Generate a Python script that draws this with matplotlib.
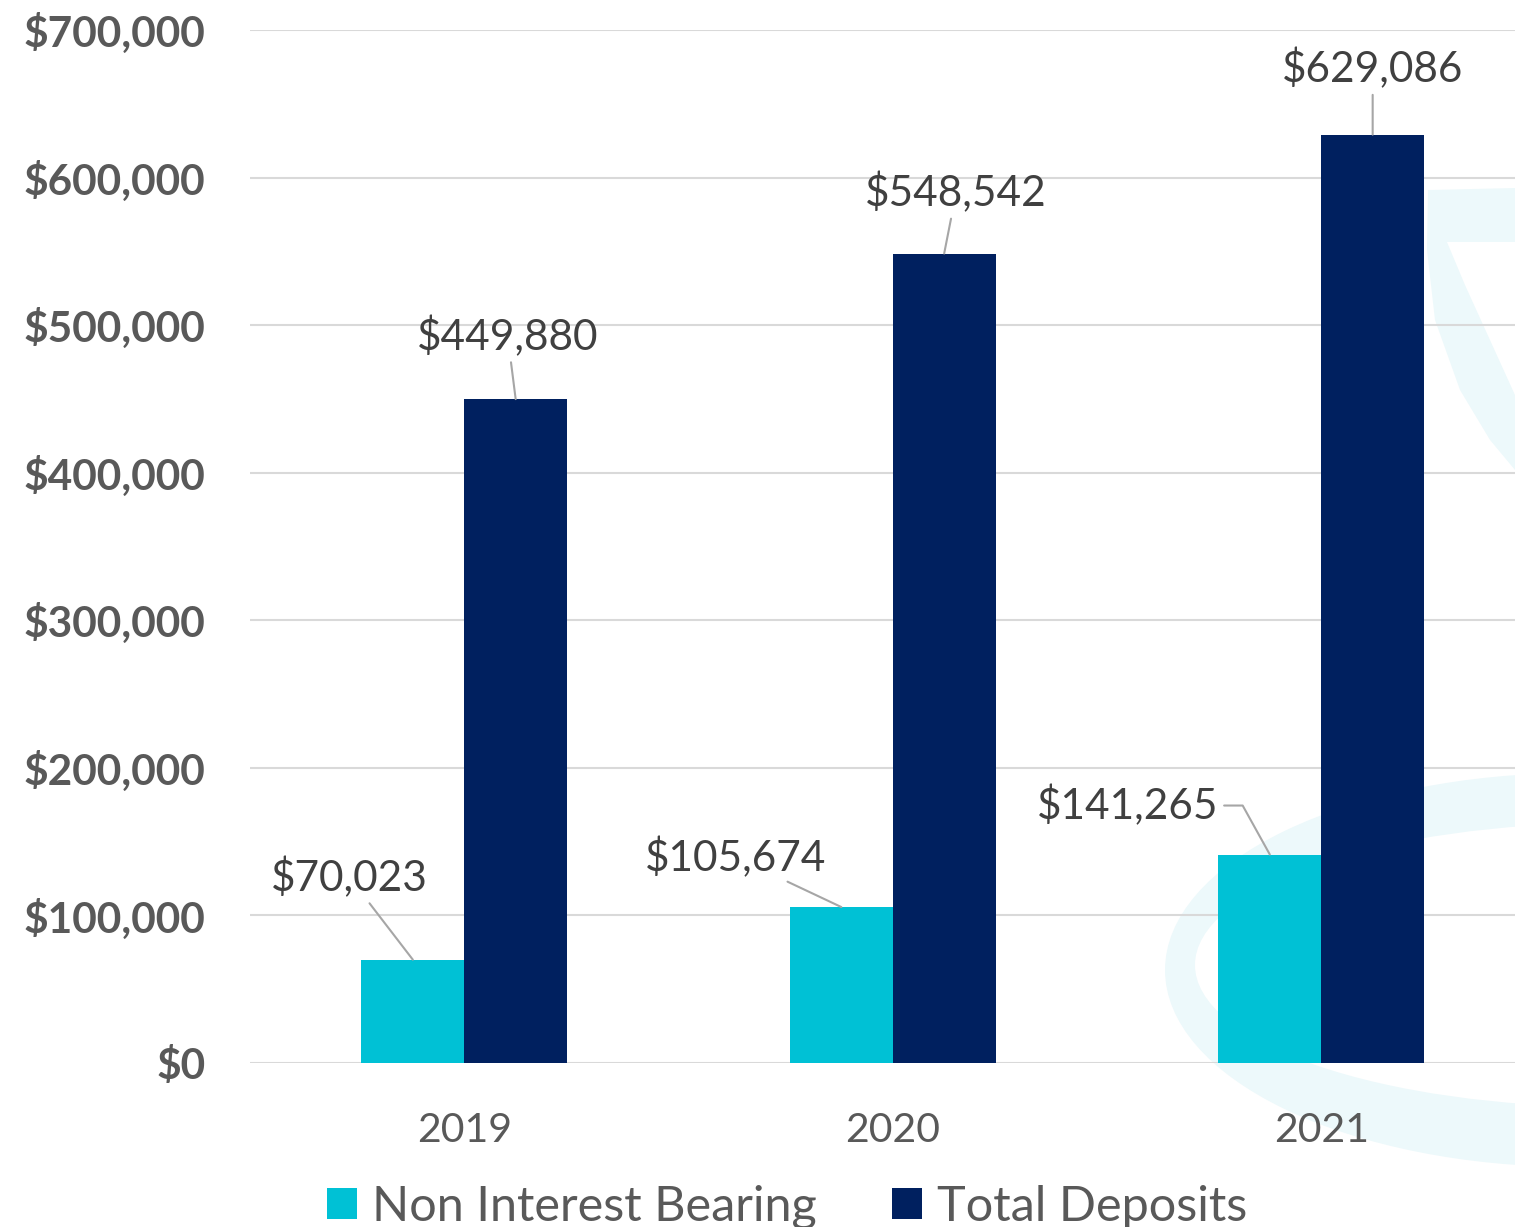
import matplotlib.pyplot as plt
import numpy as np
from matplotlib.patches import Ellipse, Polygon
from matplotlib.ticker import FuncFormatter

years = ["2019", "2020", "2021"]
non_interest = [70023, 105674, 141265]
total_deposits = [449880, 548542, 629086]
series_names = ["Non Interest Bearing", "Total Deposits"]

# label offsets in pixels (text centre relative to bar top)
nib_offsets = [(-63, 82), (-106, 50), (-142, 49)]
tot_offsets = [(-8, 63), (12, 61), (0, 66)]

cyan = "#00C1D5"
navy = "#00205F"
grey_text = "#595959"
label_text = "#404040"
wm = "#EDF9FB"

plt.rcParams["font.family"] = ["Lato", "DejaVu Sans"]

fig = plt.figure(figsize=(15.15, 12.27), dpi=100)

# faint logo watermark on the right (decoration, pixel space)
bg = fig.add_axes([0, 0, 1, 1], zorder=-1)
bg.set_xlim(0, 1515)
bg.set_ylim(1227, 0)
bg.axis("off")
bg.add_patch(Polygon([(1515, 188), (1428, 190), (1427, 250), (1435, 320), (1460, 390),
                      (1490, 440), (1515, 470), (1515, 395), (1490, 340), (1465, 285),
                      (1447, 242), (1515, 242)], closed=True, color=wm, lw=0))
bg.add_patch(Ellipse((1575, 970), 820, 394, color=wm, lw=0))
bg.add_patch(Ellipse((1610, 965), 830, 284, color="white", lw=0))

ax = fig.add_axes([250 / 1515, 1 - 1063 / 1227, 1285.5 / 1515, 1033 / 1227])
ax.patch.set_alpha(0)

x = np.arange(len(years))
w = 0.24
b1 = ax.bar(x - w / 2, non_interest, w, color=cyan, label=series_names[0], zorder=3)
b2 = ax.bar(x + w / 2, total_deposits, w, color=navy, label=series_names[1], zorder=3)

ax.set_xlim(-0.5, 2.5)
ax.set_ylim(0, 700000)
ax.set_yticks(np.arange(0, 700001, 100000))
ax.yaxis.set_major_formatter(FuncFormatter(lambda v, p: f"${v:,.0f}"))
ax.set_xticks(x)
ax.set_xticklabels(years)
ax.grid(axis="y", color="#D9D9D9", lw=1.5, zorder=0)
for s in ax.spines.values():
    s.set_visible(False)
ax.tick_params(length=0)
ax.tick_params(axis="y", pad=32, labelsize=30.5, labelcolor=grey_text)
ax.tick_params(axis="x", pad=35, labelsize=29.5, labelcolor=grey_text)
for t in ax.get_yticklabels():
    t.set_fontweight("bold")

line_kw = dict(arrowstyle="-", color="#A6A6A6", lw=1.5, shrinkA=2, shrinkB=0)
for i, (v, off) in enumerate(zip(non_interest, nib_offsets)):
    cs = "angle,angleA=0,angleB=-61,rad=0" if i == 2 else "arc3"
    ax.annotate(f"${v:,}", xy=(x[i] - w / 2, v), xytext=off, textcoords="offset pixels",
                ha="center", va="center", fontsize=30.5, color=label_text,
                arrowprops=dict(connectionstyle=cs, **line_kw), zorder=4)
for i, (v, off) in enumerate(zip(total_deposits, tot_offsets)):
    ax.annotate(f"${v:,}", xy=(x[i] + w / 2, v), xytext=off, textcoords="offset pixels",
                ha="center", va="center", fontsize=30.5, color=label_text,
                arrowprops=dict(**line_kw), zorder=4)

leg = fig.legend(handles=[b1, b2], loc="center", bbox_to_anchor=(787 / 1515, 1 - 1207 / 1227),
                 ncol=2, frameon=False, fontsize=35, handlelength=0.62, handleheight=0.62,
                 handletextpad=0.3, columnspacing=1.55, labelcolor=grey_text)

fig.savefig("out.png", dpi=100)
